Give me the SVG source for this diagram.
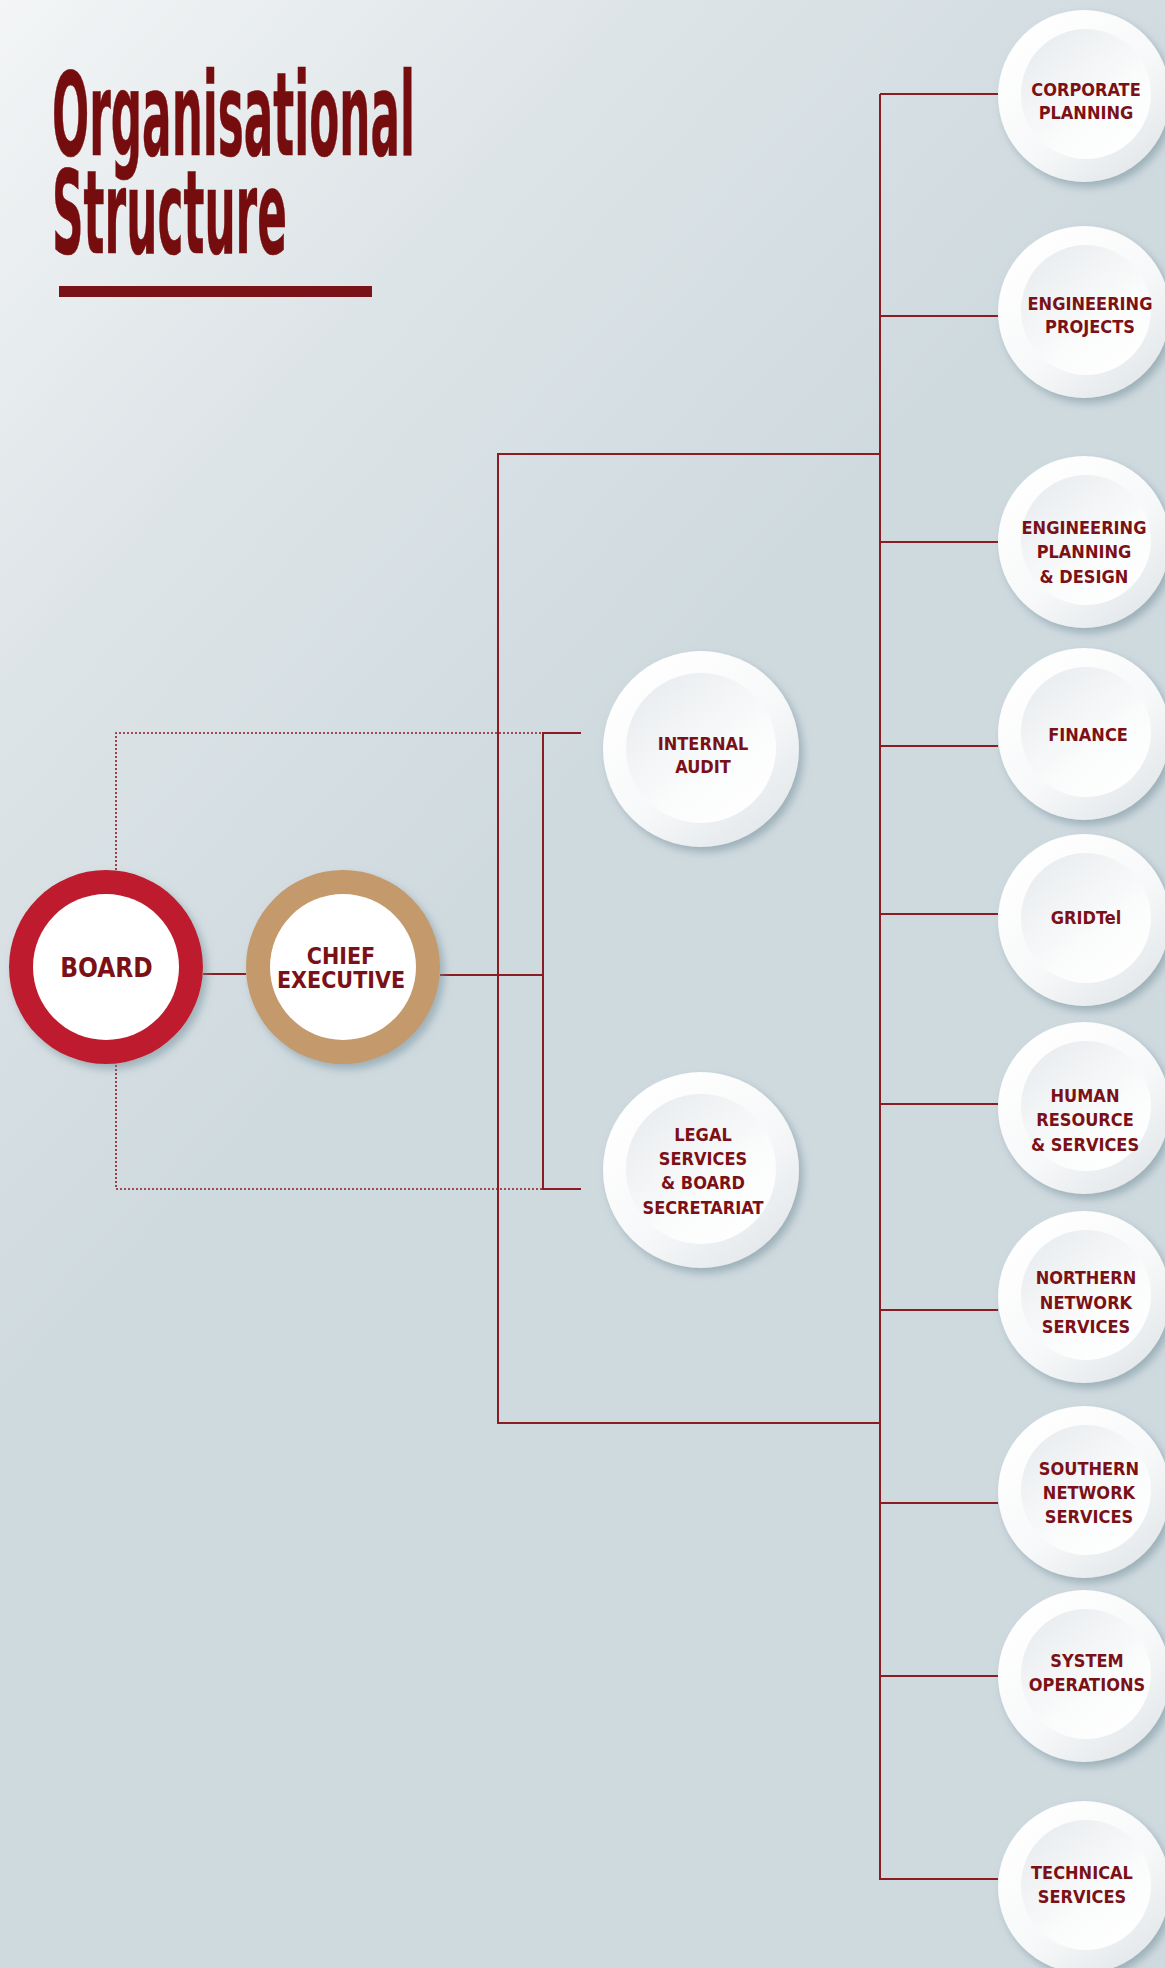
<svg xmlns="http://www.w3.org/2000/svg" width="1165" height="1968" viewBox="0 0 1165 1968">
<defs>
<linearGradient id="bg" gradientUnits="userSpaceOnUse" x1="0" y1="0" x2="700" y2="650">
<stop offset="0" stop-color="#f3f5f6"/>
<stop offset="0.5" stop-color="#dde4e7"/>
<stop offset="1" stop-color="#cfdadf"/>
</linearGradient>
<linearGradient id="outerG" x1="0.15" y1="0.1" x2="0.85" y2="0.95">
<stop offset="0" stop-color="#ffffff"/>
<stop offset="0.55" stop-color="#f7f8f9"/>
<stop offset="1" stop-color="#e2e7ea"/>
</linearGradient>
<linearGradient id="innerG" x1="0.15" y1="0.1" x2="0.85" y2="0.95">
<stop offset="0" stop-color="#eaedf0"/>
<stop offset="0.6" stop-color="#fafbfb"/>
<stop offset="1" stop-color="#ffffff"/>
</linearGradient>
<filter id="sh" x="-20%" y="-20%" width="150%" height="150%">
<feDropShadow dx="4" dy="5" stdDeviation="4" flood-color="#6f8d98" flood-opacity="0.55"/>
</filter>
</defs>
<style>
.lbl{font-family:"DejaVu Sans Condensed","DejaVu Sans",sans-serif;font-stretch:condensed;font-weight:bold;fill:#7b1116;text-anchor:middle}
.s{font-size:18px}
.ttl{font-family:"DejaVu Sans Condensed","DejaVu Sans",sans-serif;font-stretch:condensed;font-weight:bold;fill:#750d0e;stroke:#750d0e;stroke-width:0.6;font-size:116px}
.ln{stroke:#8a1c22;stroke-width:2;fill:none}
.dot{stroke:#8a1c22;stroke-width:1.6;fill:none;stroke-dasharray:2 2}
.out{fill:url(#outerG);filter:url(#sh)}
.inn{fill:url(#innerG)}
</style>
<rect width="1165" height="1968" fill="url(#bg)"/>
<g id="title">
<text class="ttl" x="52" y="155" textLength="363" lengthAdjust="spacingAndGlyphs">Organisational</text>
<text class="ttl" x="52" y="253" textLength="235" lengthAdjust="spacingAndGlyphs">Structure</text>
<rect x="59" y="286" width="313" height="11" fill="#7a1318"/>
</g>
<g id="connectors">
<polyline class="dot" points="116,870 116,733 543,733"/>
<polyline class="dot" points="116,1065 116,1189 543,1189"/>
<line class="ln" x1="203" y1="974" x2="246" y2="974"/>
<line class="ln" x1="440" y1="975" x2="543" y2="975"/>
<polyline class="ln" points="581,733 543,733 543,1189 581,1189"/>
<polyline class="ln" points="880,454 498,454 498,1423 880,1423"/>
<line class="ln" x1="880" y1="94" x2="880" y2="1880"/>
<line class="ln" x1="880" y1="94" x2="998" y2="94"/>
<line class="ln" x1="880" y1="316" x2="998" y2="316"/>
<line class="ln" x1="880" y1="542" x2="998" y2="542"/>
<line class="ln" x1="880" y1="746" x2="998" y2="746"/>
<line class="ln" x1="880" y1="914" x2="998" y2="914"/>
<line class="ln" x1="880" y1="1104" x2="998" y2="1104"/>
<line class="ln" x1="880" y1="1310" x2="998" y2="1310"/>
<line class="ln" x1="880" y1="1503" x2="998" y2="1503"/>
<line class="ln" x1="880" y1="1676" x2="998" y2="1676"/>
<line class="ln" x1="880" y1="1879" x2="998" y2="1879"/>
</g>
<g id="board">
<circle cx="106" cy="967" r="97" fill="#be1e2d" filter="url(#sh)"/>
<circle cx="106" cy="967" r="73" fill="#ffffff"/>
<text class="lbl" x="106.5" y="977" font-size="26">BOARD</text>
</g>
<g id="chief-executive">
<circle cx="343" cy="967" r="97" fill="#c49a6c" filter="url(#sh)"/>
<circle cx="343" cy="967" r="73" fill="#ffffff"/>
<text class="lbl" font-size="23"><tspan x="341" y="964">CHIEF</tspan><tspan x="341" y="988">EXECUTIVE</tspan></text>
</g>
<g id="internal-audit">
<circle class="out" cx="701" cy="749" r="98"/>
<circle class="inn" cx="701" cy="748" r="75"/>
<text class="lbl s"><tspan x="703" y="750">INTERNAL</tspan><tspan x="703" y="773">AUDIT</tspan></text>
</g>
<g id="legal-services">
<circle class="out" cx="701" cy="1170" r="98"/>
<circle class="inn" cx="701" cy="1169" r="75"/>
<text class="lbl s"><tspan x="703" y="1141">LEGAL</tspan><tspan x="703" y="1165">SERVICES</tspan><tspan x="703" y="1189">&amp; BOARD</tspan><tspan x="703" y="1214">SECRETARIAT</tspan></text>
</g>
<g id="corporate-planning">
<circle class="out" cx="1084" cy="96" r="86"/>
<circle class="inn" cx="1086" cy="94" r="65"/>
<text class="lbl s"><tspan x="1086" y="96">CORPORATE</tspan><tspan x="1086" y="119">PLANNING</tspan></text>
</g>
<g id="engineering-projects">
<circle class="out" cx="1084" cy="312" r="86"/>
<circle class="inn" cx="1086" cy="310" r="65"/>
<text class="lbl s"><tspan x="1090" y="310">ENGINEERING</tspan><tspan x="1090" y="333">PROJECTS</tspan></text>
</g>
<g id="engineering-planning-design">
<circle class="out" cx="1084" cy="542" r="86"/>
<circle class="inn" cx="1086" cy="540" r="65"/>
<text class="lbl s"><tspan x="1084" y="534">ENGINEERING</tspan><tspan x="1084" y="558">PLANNING</tspan><tspan x="1084" y="583">&amp; DESIGN</tspan></text>
</g>
<g id="finance">
<circle class="out" cx="1084" cy="734" r="86"/>
<circle class="inn" cx="1086" cy="732" r="65"/>
<text class="lbl s" x="1088" y="741">FINANCE</text>
</g>
<g id="gridtel">
<circle class="out" cx="1084" cy="920" r="86"/>
<circle class="inn" cx="1086" cy="918" r="65"/>
<text class="lbl s" x="1086" y="924">GRIDTel</text>
</g>
<g id="human-resource">
<circle class="out" cx="1084" cy="1108" r="86"/>
<circle class="inn" cx="1086" cy="1106" r="65"/>
<text class="lbl s"><tspan x="1085" y="1102">HUMAN</tspan><tspan x="1085" y="1126">RESOURCE</tspan><tspan x="1085" y="1151">&amp; SERVICES</tspan></text>
</g>
<g id="northern-network">
<circle class="out" cx="1084" cy="1297" r="86"/>
<circle class="inn" cx="1086" cy="1295" r="65"/>
<text class="lbl s"><tspan x="1086" y="1284">NORTHERN</tspan><tspan x="1086" y="1309">NETWORK</tspan><tspan x="1086" y="1333">SERVICES</tspan></text>
</g>
<g id="southern-network">
<circle class="out" cx="1084" cy="1492" r="86"/>
<circle class="inn" cx="1086" cy="1490" r="65"/>
<text class="lbl s"><tspan x="1089" y="1475">SOUTHERN</tspan><tspan x="1089" y="1499">NETWORK</tspan><tspan x="1089" y="1523">SERVICES</tspan></text>
</g>
<g id="system-operations">
<circle class="out" cx="1084" cy="1676" r="86"/>
<circle class="inn" cx="1086" cy="1674" r="65"/>
<text class="lbl s"><tspan x="1087" y="1667">SYSTEM</tspan><tspan x="1087" y="1691">OPERATIONS</tspan></text>
</g>
<g id="technical-services">
<circle class="out" cx="1084" cy="1887" r="86"/>
<circle class="inn" cx="1086" cy="1885" r="65"/>
<text class="lbl s"><tspan x="1082" y="1879">TECHNICAL</tspan><tspan x="1082" y="1903">SERVICES</tspan></text>
</g>
</svg>
